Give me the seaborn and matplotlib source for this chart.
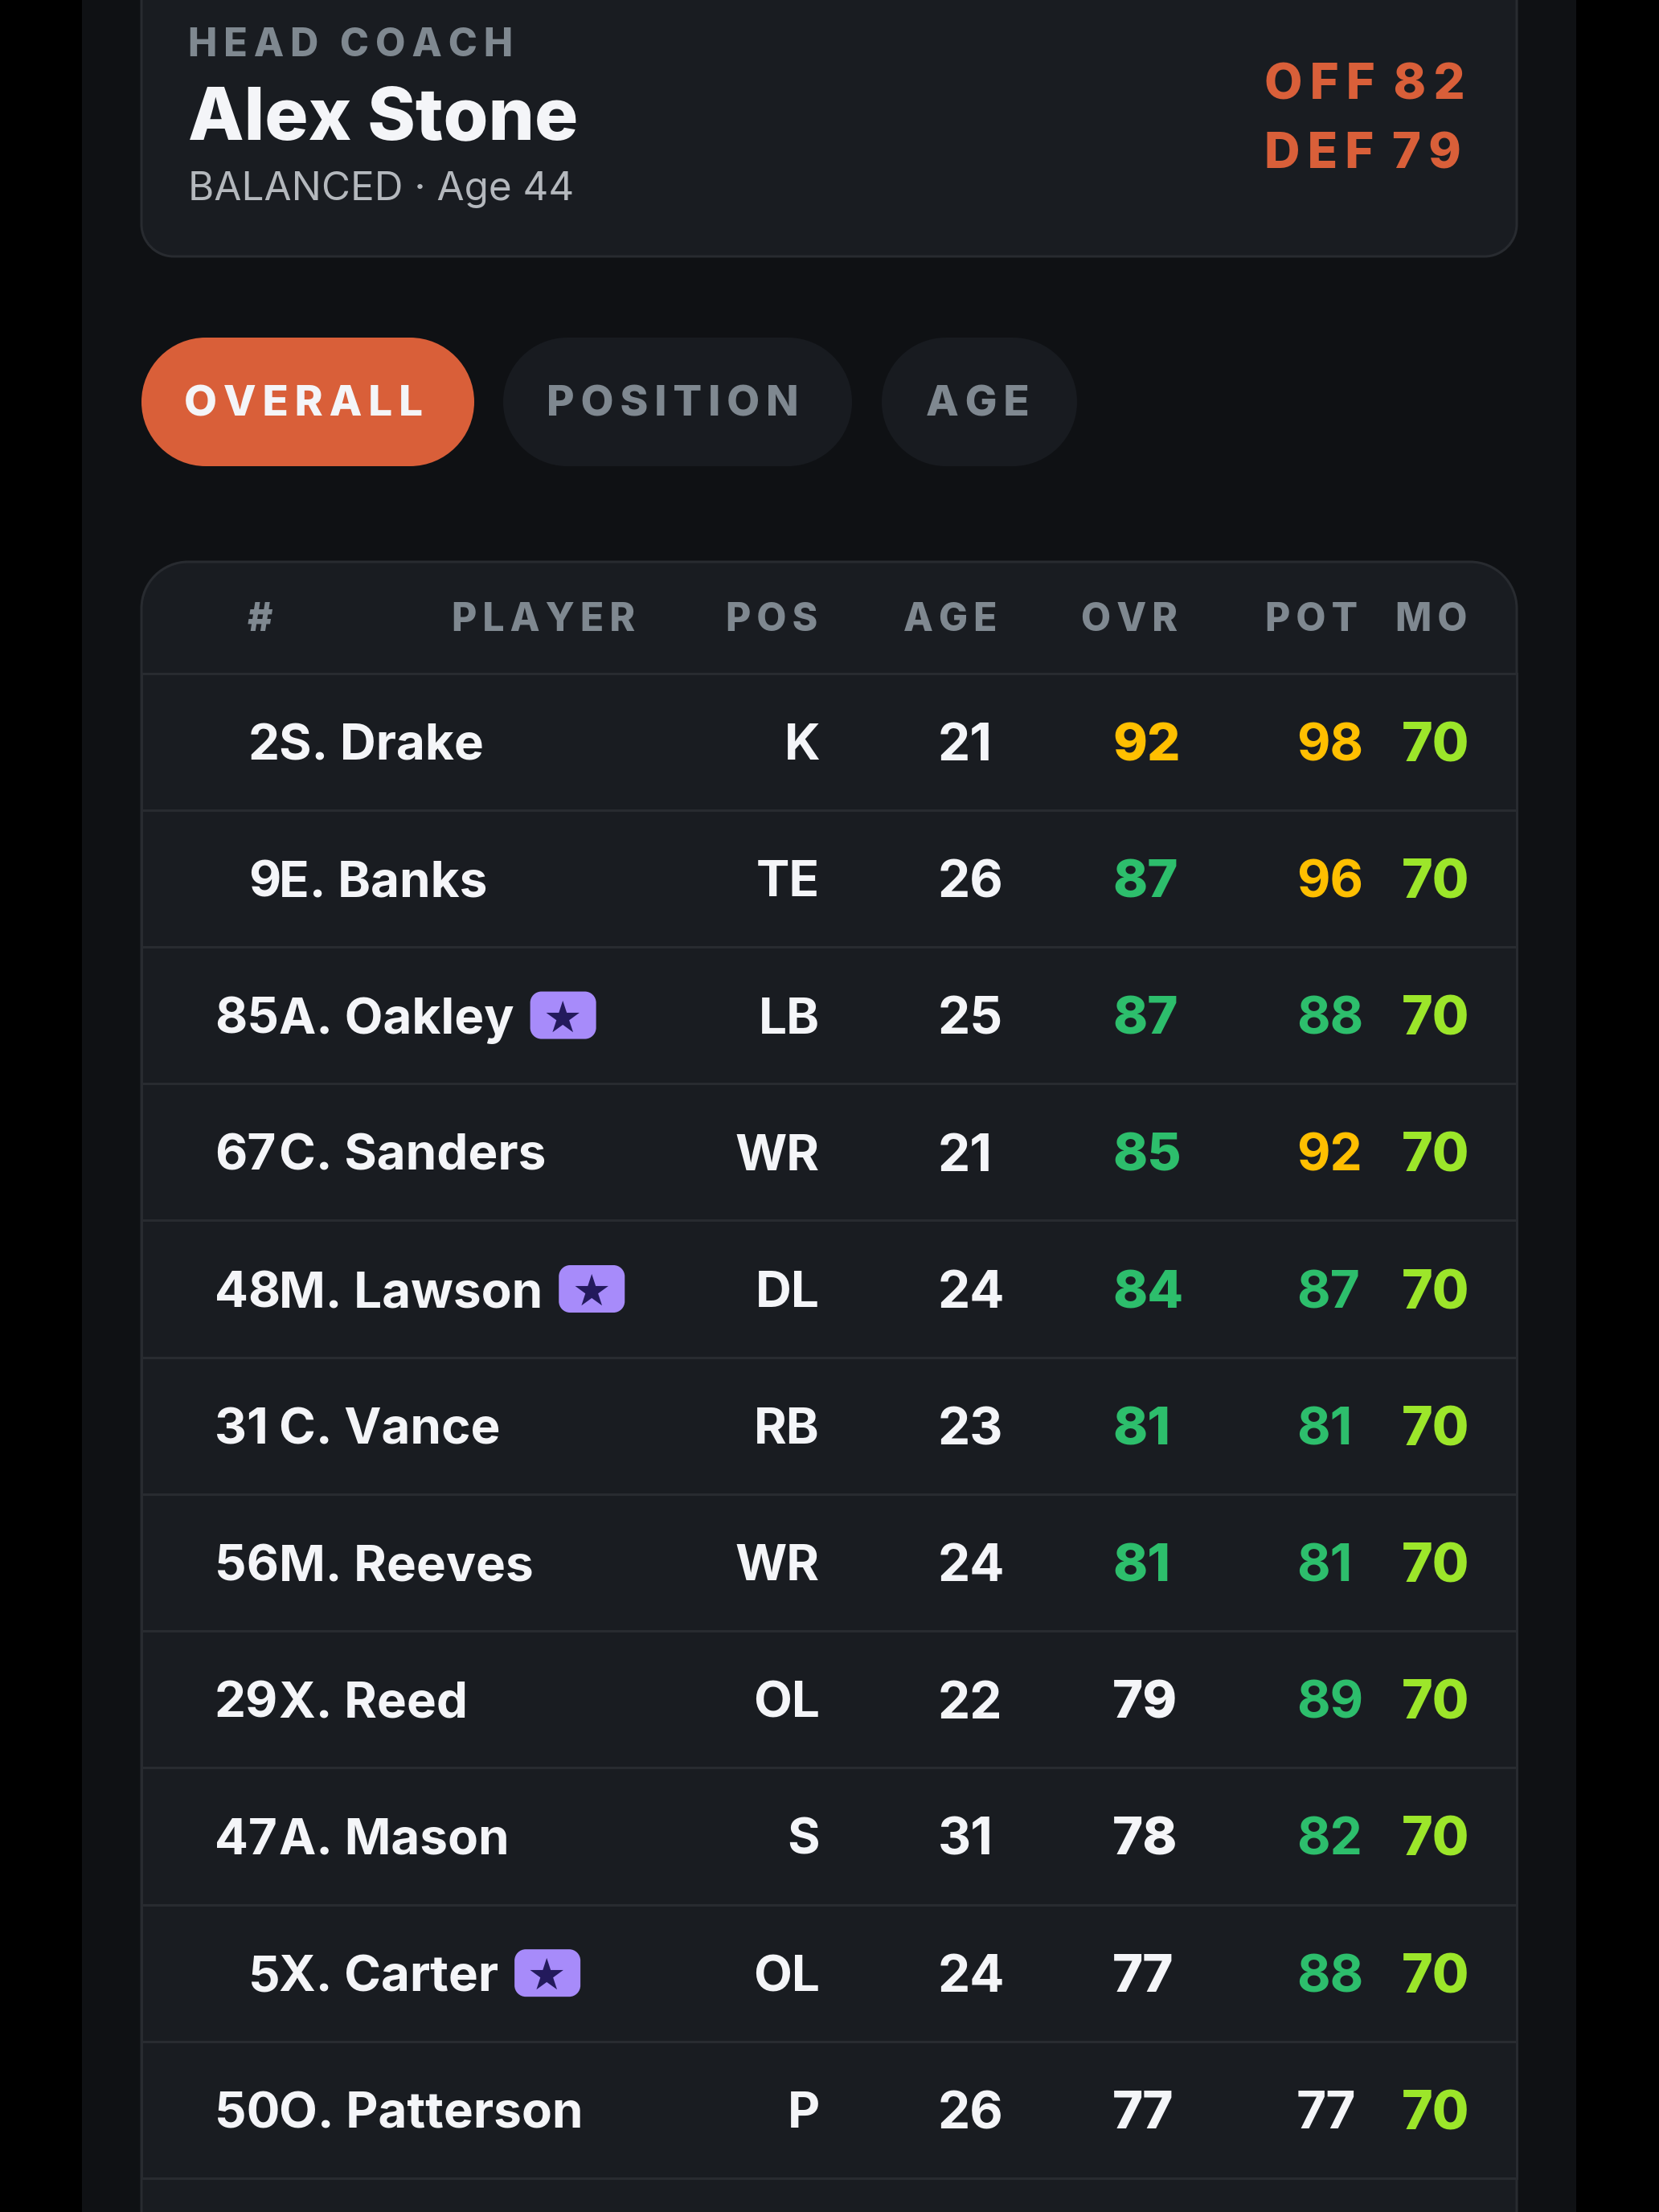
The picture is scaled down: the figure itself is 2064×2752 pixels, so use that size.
import matplotlib
matplotlib.use('Agg')
import matplotlib.pyplot as plt
import matplotlib.transforms as mtransforms
from matplotlib.colors import ListedColormap
from matplotlib.patches import PathPatch, Rectangle
from matplotlib.path import Path
import numpy as np
import seaborn as sns

# table data
ranks = [2, 9, 85, 67, 48, 31, 56, 29, 47, 5, 50]
players = ['S. Drake', 'E. Banks', 'A. Oakley', 'C. Sanders', 'M. Lawson', 'C. Vance',
           'M. Reeves', 'X. Reed', 'A. Mason', 'X. Carter', 'O. Patterson']
positions = ['K', 'TE', 'LB', 'WR', 'DL', 'RB', 'WR', 'OL', 'S', 'OL', 'P']
ages = [21, 26, 25, 21, 24, 23, 24, 22, 31, 24, 26]
ovr = [92, 87, 87, 85, 84, 81, 81, 79, 78, 77, 77]
pot = [98, 96, 88, 92, 87, 81, 81, 89, 82, 88, 77]
morale = [70, 70, 70, 70, 70, 70, 70, 70, 70, 70, 70]
starred = ['A. Oakley', 'M. Lawson', 'X. Carter']

headers = ['#', 'PLAYER', 'POS', 'AGE', 'OVR', 'POT', 'MO']
tabs = ['OVERALL', 'POSITION', 'AGE']
coach_label = 'HEAD COACH'
coach_name = 'Alex Stone'
coach_sub = 'BALANCED · Age 44'
coach_off = 'OFF 82'
coach_def = 'DEF 79'

BLACK = '#000000'
BG = '#0f1114'
CARD = '#191c21'
PILL = '#181b20'
RULE = '#282b30'
ORANGE = '#d95f39'
WHITE = '#f4f5f8'
GREY = '#7f8890'
SUB = '#b4b8bd'
GOLD = '#ffbf00'
GREEN = '#2dbe6c'
LIME = '#9ce62a'
BADGE = '#a78bfa'
STAR = '#231a5c'

W, H = 2064, 2752
DPI = 100

sns.set_theme(style='dark')
plt.rcParams['font.family'] = ['Inter', 'DejaVu Sans']


def pt(px):
    return px * 72 / DPI


def tracked(s, gap='\u2009'):
    # letter-spacing: a thin space between the glyphs
    return gap.join(s)


def rating_color(v):
    if v >= 90:
        return GOLD
    if v >= 80:
        return GREEN
    return WHITE


def round_rect(x0, y0, x1, y1, r, ry=None):
    # ry differs from r when x and y are on different scales
    ry = r if ry is None else ry
    k, ky = r * 0.4477, ry * 0.4477  # circle arc as cubic bezier
    verts = [(x0 + r, y0), (x1 - r, y0),
             (x1 - k, y0), (x1, y0 + ky), (x1, y0 + ry),
             (x1, y1 - ry),
             (x1, y1 - ky), (x1 - k, y1), (x1 - r, y1),
             (x0 + r, y1),
             (x0 + k, y1), (x0, y1 - ky), (x0, y1 - ry),
             (x0, y0 + ry),
             (x0, y0 + ky), (x0 + k, y0), (x0 + r, y0)]
    codes = [Path.MOVETO, Path.LINETO,
             Path.CURVE4, Path.CURVE4, Path.CURVE4,
             Path.LINETO,
             Path.CURVE4, Path.CURVE4, Path.CURVE4,
             Path.LINETO,
             Path.CURVE4, Path.CURVE4, Path.CURVE4,
             Path.LINETO,
             Path.CURVE4, Path.CURVE4, Path.CURVE4]
    return Path(verts, codes)


def card(ax, x0, y0, x1, y1, r, fc, ec='none'):
    ax.add_patch(PathPatch(round_rect(x0, y0, x1, y1, r), fc=fc, ec=ec,
                           lw=pt(3) if ec != 'none' else 0))


fig = plt.figure(figsize=(W / DPI, H / DPI), dpi=DPI, facecolor=BLACK)

# pixel canvas for the cards and pills
bg = fig.add_axes([0, 0, 1, 1], zorder=0)
bg.set_xlim(0, W)
bg.set_ylim(H, 0)
bg.axis('off')

bg.add_patch(Rectangle((102, 0), 1859, H, fc=BG, ec='none'))

# coach card
card(bg, 176, -80, 1887, 319, 40, CARD, RULE)
bg.text(234, 70, tracked(coach_label, '\u2006'), color=GREY, fontsize=pt(48.5), fontweight='heavy', va='baseline')
bg.text(234, 173, coach_name, color=WHITE, fontsize=pt(90.5), fontweight='heavy', va='baseline')
bg.text(234, 249, coach_sub, color=SUB, fontsize=pt(49.4), fontweight='regular', va='baseline')
bg.text(1573, 124, tracked(coach_off).replace(' \u2009', ' '), color=ORANGE, fontsize=pt(61.5),
        fontweight='heavy', va='baseline')
bg.text(1573, 209, tracked(coach_def).replace(' \u2009', ' '), color=ORANGE, fontsize=pt(61.5),
        fontweight='heavy', va='baseline')

# tabs
tab_boxes = [(176, 590), (626, 1060), (1097, 1340)]
tab_text_x = [229, 680, 1152]
for i, name in enumerate(tabs):
    x0, x1 = tab_boxes[i]
    card(bg, x0, 420, x1, 580, 80, ORANGE if i == 0 else PILL)
    bg.text(tab_text_x[i], 518, tracked(name), color=WHITE if i == 0 else GREY,
            fontsize=pt(53), fontweight='heavy', va='baseline')

# table card and header row
card(bg, 176, 699, 1887, H + 120, 58, CARD, RULE)
header_x = [308, 562, 1017, 1240, 1465, 1689, 1825]
header_ha = ['left', 'left', 'right', 'right', 'right', 'right', 'right']
for name, x, ha in zip(headers, header_x, header_ha):
    bg.text(x, 785, tracked(name), color=GREY, fontsize=pt(48), fontweight='heavy', ha=ha, va='baseline')

# one-column heatmap gives the row grid, rows then carry their own y scale
heat = fig.add_axes([176 / W, 1 - 2710 / H, (1887 - 176) / W, (2710 - 837.5) / H], zorder=1)
sns.heatmap(np.array(ovr).reshape(-1, 1), ax=heat, cmap=ListedColormap([CARD]), cbar=False,
            linewidths=pt(3), linecolor=RULE, xticklabels=False, yticklabels=False)
heat.collections[0].set_clip_on(False)

row_tf = mtransforms.blended_transform_factory(bg.transData, heat.transData)


def cell(x, i, s, color=WHITE, weight='bold', ha='left', size=62):
    return heat.text(x, i + 0.5, s, transform=row_tf, color=color, fontsize=pt(size),
                     fontweight=weight, ha=ha, va='center_baseline')


fig.canvas.draw()
renderer = fig.canvas.get_renderer()
row_px = heat.get_window_extent(renderer).height / len(players)

for i in range(len(players)):
    cell(351 - 42 * len(str(ranks[i])), i, str(ranks[i]))
    name = cell(347, i, players[i])
    cell(1020, i, positions[i], ha='right')
    cell(1167, i, str(ages[i]), size=64)
    cell(1384, i, str(ovr[i]), color=rating_color(ovr[i]), weight='heavy', size=65)
    cell(1613, i, str(pot[i]), color=rating_color(pot[i]), size=64)
    cell(1744, i, str(morale[i]), color=LIME, weight='heavy', size=66)
    if players[i] in starred:
        x_end = name.get_window_extent(renderer).x1
        half = 29.5 / row_px
        heat.add_patch(PathPatch(round_rect(x_end + 20, i + 0.5 - half, x_end + 102, i + 0.5 + half, 14, 14 / row_px),
                                 transform=row_tf, fc=BADGE, ec='none', lw=0, clip_on=False))
        heat.text(x_end + 60, i + 0.5, '★', transform=row_tf, color=STAR, family=['DejaVu Sans'],
                  fontsize=pt(54), ha='center', va='center_baseline')

fig.savefig('out.png', dpi=DPI, facecolor=BLACK)
